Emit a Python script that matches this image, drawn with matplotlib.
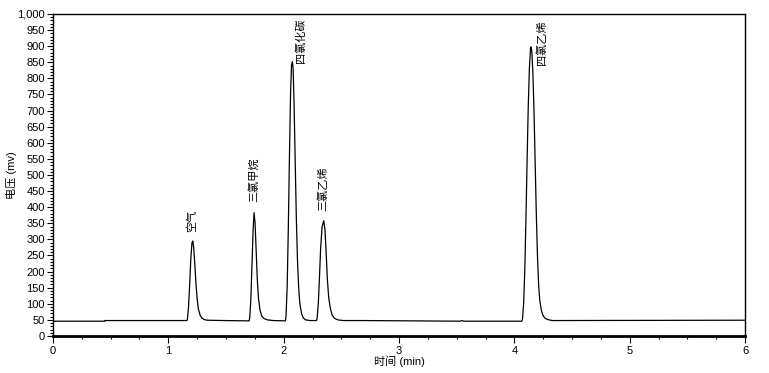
import matplotlib
matplotlib.use("Agg")
import matplotlib.pyplot as plt
import matplotlib.ticker as ticker

plt.rcParams['font.family'] = ['Liberation Sans', 'Noto Sans CJK SC']

# chromatogram trace (time in min, signal in mV)
trace_t = [0.00, 0.45, 0.451, 1.16,
           1.165, 1.175, 1.185, 1.195, 1.205, 1.212, 1.22, 1.23, 1.24, 1.25, 1.26, 1.275, 1.29, 1.31, 1.34, 1.48,
           1.70, 1.705, 1.715, 1.725, 1.735, 1.743, 1.752, 1.762, 1.772, 1.782, 1.795, 1.81, 1.83, 1.86, 1.91,
           2.015, 2.02, 2.03, 2.04, 2.05, 2.06, 2.068, 2.075, 2.082, 2.09, 2.10, 2.11, 2.12, 2.13, 2.14, 2.155, 2.17, 2.19, 2.23,
           2.285, 2.29, 2.30, 2.31, 2.32, 2.333, 2.347, 2.358, 2.368, 2.378, 2.39, 2.405, 2.42, 2.44, 2.47, 2.52, 2.68,
           3.53, 3.545, 3.56, 4.065,
           4.07, 4.08, 4.09, 4.10, 4.11, 4.12, 4.13, 4.14, 4.145, 4.152, 4.16, 4.17, 4.18, 4.19, 4.20, 4.21, 4.22, 4.235, 4.25, 4.27, 4.30, 4.33,
           6.00]
trace_v = [46, 46, 48, 48,
           50, 90, 160, 240, 290, 295, 275, 220, 160, 115, 85, 65, 56, 51, 49, 48,
           47, 55, 110, 220, 330, 383, 350, 260, 170, 115, 80, 62, 54, 50, 48,
           47, 60, 150, 330, 560, 760, 840, 852, 830, 720, 540, 360, 230, 150, 100, 70, 56, 50, 48,
           48, 55, 100, 180, 270, 340, 358, 330, 260, 180, 120, 85, 65, 55, 50, 48, 48,
           46, 48, 46, 46,
           52, 100, 200, 360, 540, 710, 830, 893, 898, 880, 820, 700, 540, 380, 250, 160, 110, 78, 62, 54, 50, 48,
           49]

peak_names = ['空气', '三氯甲烷', '四氯化碳', '三氯乙烯', '四氯乙烯']
label_t = [1.205, 1.743, 2.15, 2.338, 4.237]
label_v = [323, 417, 848, 389, 842]

fig = plt.figure(figsize=(7.69, 3.73), dpi=100)
ax = fig.add_axes([0.0689, 0.0992, 0.9, 0.8633])

ax.plot(trace_t, trace_v, color='black', lw=0.9)

for name, t, v in zip(peak_names, label_t, label_v):
    ax.text(t, v, name, rotation=90, ha='center', va='bottom', fontsize=8,
            bbox=dict(facecolor='white', edgecolor='none', pad=1))

ax.set_xlim(0, 6)
ax.set_ylim(0, 1000)
ax.xaxis.set_major_locator(ticker.MultipleLocator(1))
ax.xaxis.set_minor_locator(ticker.MultipleLocator(0.25))
ax.yaxis.set_major_locator(ticker.MultipleLocator(50))
ax.yaxis.set_minor_locator(ticker.MultipleLocator(10))
ax.yaxis.set_major_formatter(ticker.FuncFormatter(lambda v, p: f'{v:,.0f}'))

ax.tick_params(axis='both', which='major', labelsize=8, length=4, width=0.8, pad=2)
ax.tick_params(axis='both', which='minor', length=2, width=0.8)
ax.tick_params(axis='x', which='major', length=5, pad=2)

for s in ['top', 'right', 'left']:
    ax.spines[s].set_linewidth(1.0)
ax.spines['bottom'].set_linewidth(2.0)

ax.set_xlabel('时间 (min)', fontsize=8, labelpad=0)
ax.set_ylabel('电压 (mv)', fontsize=8, labelpad=0)

fig.savefig('out.png', dpi=100)
